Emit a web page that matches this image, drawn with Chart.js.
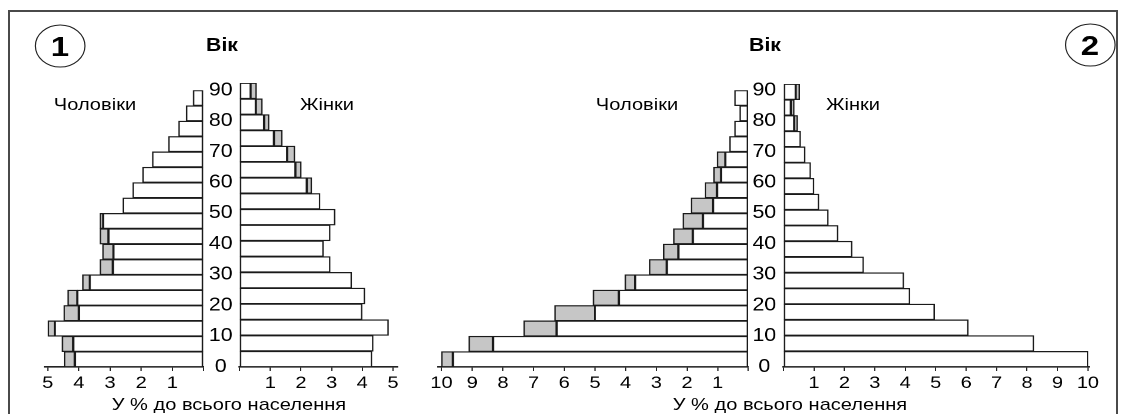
<!DOCTYPE html>
<html lang="uk">
<head>
<meta charset="utf-8">
<title>Статево-вікові піраміди</title>
<script src="https://cdn.jsdelivr.net/npm/chart.js@4.4.1/dist/chart.umd.min.js"></script>
<style>
  :root { --s: 1.18; }
  html, body { margin: 0; padding: 0; background: #fff; }
  body {
    width: 1123px; height: 414px; overflow: hidden; position: relative;
    font-family: "Liberation Sans", Arial, sans-serif; color: #000;
  }
  .frame {
    position: absolute; left: 8px; top: 10px; width: 1110px; height: 430px;
    border: 2px solid #4a4a4a; box-sizing: border-box;
  }
  /* the picture is a bit wider than it is tall, so the whole stage is stretched */
  #stage {
    position: absolute; left: 0; top: 0;
    width: calc(1123px / var(--s)); height: 414px;
    transform: scaleX(var(--s)); transform-origin: 0 0;
  }
  .t {
    position: absolute; transform: translate(-50%, -50%);
    white-space: nowrap; font-size: 17px; line-height: 1;
  }
  .b { font-weight: bold; font-size: 18px; }
  .circ {
    position: absolute; width: 43px; height: 43px; box-sizing: border-box;
    border: 1.5px solid #222; border-radius: 50%;
    transform: translate(-50%, -50%);
    display: flex; align-items: center; justify-content: center;
    font-weight: bold; font-size: 28px; line-height: 1;
  }
  .box { position: absolute; }
</style>
</head>
<body>
<div class="frame"></div>
<div id="stage">
  <div class="circ" style="left: calc(60px / var(--s)); top: 46px;">1</div>
  <div class="circ" style="left: calc(1090px / var(--s)); top: 45px;">2</div>

  <div class="t b" style="left: calc(222px / var(--s)); top: 45px;">Вік</div>
  <div class="t b" style="left: calc(765px / var(--s)); top: 45px;">Вік</div>

  <div class="t" style="left: calc(95px / var(--s)); top: 104px;">Чоловіки</div>
  <div class="t" style="left: calc(327px / var(--s)); top: 104px;">Жінки</div>
  <div class="t" style="left: calc(637px / var(--s)); top: 104px;">Чоловіки</div>
  <div class="t" style="left: calc(853px / var(--s)); top: 104px;">Жінки</div>

  <div class="t" style="left: calc(229px / var(--s)); top: 404px;">У % до всього населення</div>
  <div class="t" style="left: calc(790px / var(--s)); top: 404px;">У % до всього населення</div>

  <div class="box" id="boxA"><canvas id="menOne"></canvas></div>
  <div class="box" id="boxB"><canvas id="womenOne"></canvas></div>
  <div class="box" id="boxC"><canvas id="menTwo"></canvas></div>
  <div class="box" id="boxD"><canvas id="womenTwo"></canvas></div>
</div>

<script>
// age groups, bottom to top
const ageGroups = ['0-4', '5-9', '10-14', '15-19', '20-24', '25-29', '30-34', '35-39', '40-44',
                   '45-49', '50-54', '55-59', '60-64', '65-69', '70-74', '75-79', '80-84', '85-89'];

// pyramid 1 (% of the whole population): white part + grey excess
const men1White   = [4.13, 4.18, 4.77, 4.00, 4.05, 3.65, 2.91, 2.89, 3.05, 3.22, 2.59, 2.27, 1.95, 1.64, 1.12, 0.80, 0.55, 0.33];
const men1Excess  = [0.34, 0.36, 0.22, 0.48, 0.31, 0.23, 0.41, 0.35, 0.27, 0.10, 0, 0, 0, 0, 0, 0, 0, 0];
const women1White  = [4.31, 4.35, 4.85, 3.99, 4.08, 3.65, 2.95, 2.73, 2.95, 3.11, 2.62, 2.19, 1.82, 1.55, 1.12, 0.80, 0.53, 0.36];
const women1Excess = [0, 0, 0, 0, 0, 0, 0, 0, 0, 0, 0, 0.16, 0.19, 0.25, 0.27, 0.16, 0.21, 0.19];

// pyramid 2
const men2White   = [9.63, 8.32, 6.25, 5.00, 4.22, 3.69, 2.66, 2.28, 1.81, 1.48, 1.15, 1.02, 0.89, 0.75, 0.61, 0.45, 0.28, 0.45];
const men2Excess  = [0.37, 0.79, 1.07, 1.31, 0.84, 0.33, 0.57, 0.49, 0.63, 0.65, 0.72, 0.39, 0.24, 0.27, 0, 0, 0, 0];
const women2White  = [10.0, 8.22, 6.07, 4.96, 4.15, 3.95, 2.63, 2.25, 1.79, 1.47, 1.16, 1.00, 0.89, 0.71, 0.56, 0.35, 0.24, 0.40];
const women2Excess = [0, 0, 0, 0, 0, 0, 0, 0, 0, 0, 0, 0, 0, 0, 0, 0.11, 0.11, 0.13];

const S = 1.18;
const FONT = "'Liberation Sans', Arial, sans-serif";

function wx(v) {
    return v / S;
}

// left/top/width/height in page pixels
function place(id, left, top, width, height) {
    const el = document.getElementById(id);
    el.style.left = wx(left) + 'px';
    el.style.top = top + 'px';
    el.style.width = wx(width) + 'px';
    el.style.height = height + 'px';
}

function makePanel(canvasId, white, excess, cfg) {
    const scales = {
        x: {
            type: 'linear',
            min: 0,
            max: cfg.max,
            reverse: cfg.reverse,
            stacked: true,
            ticks: {
                stepSize: 1,
                includeBounds: false,
                autoSkip: false,
                maxRotation: 0,
                padding: 2,
                color: '#000',
                font: { family: FONT, size: 17 },
                callback: (value) => value === 0 ? '' : value
            },
            grid: { drawOnChartArea: false, drawTicks: true, tickLength: 4, color: '#222', lineWidth: 1 },
            border: { display: true, color: '#222', width: 1.6 },
            afterFit: (scale) => { scale.height = 33; }
        },
        y: {
            type: 'category',
            stacked: true,
            reverse: true,
            display: false
        }
    };
    if (cfg.ageWidth) {
        // age ticks sit on the bar boundaries, so no half-slot offset
        scales.age = {
            type: 'linear',
            position: 'right',
            offset: false,
            min: 0,
            max: 90,
            ticks: {
                stepSize: 10,
                autoSkip: false,
                crossAlign: 'center',
                padding: cfg.agePad,
                color: '#000',
                font: { family: FONT, size: 18 }
            },
            grid: { display: false, drawTicks: false, offset: false },
            border: { display: false },
            afterFit: (scale) => { scale.width = wx(cfg.ageWidth); }
        };
    }

    const bar = {
        borderColor: '#1a1a1a',
        borderWidth: 1.25,
        borderSkipped: false,
        barPercentage: 1,
        categoryPercentage: 1
    };

    return new Chart(document.getElementById(canvasId), {
        type: 'bar',
        data: {
            labels: ageGroups,
            datasets: [
                Object.assign({ data: white, backgroundColor: '#ffffff' }, bar),
                Object.assign({ data: excess, backgroundColor: '#c6c6c6' }, bar)
            ]
        },
        options: {
            indexAxis: 'y',
            responsive: true,
            maintainAspectRatio: false,
            animation: false,
            devicePixelRatio: 2,
            layout: {
                autoPadding: false,
                padding: { left: wx(cfg.padLeft || 0), right: wx(cfg.padRight || 0), top: 8, bottom: 0 }
            },
            plugins: {
                legend: { display: false },
                tooltip: { enabled: false }
            },
            scales: scales
        }
    });
}

place('boxA', 30, 75, 207, 325);
place('boxB', 237, 75, 173, 325);
place('boxC', 425, 76, 356, 324);
place('boxD', 781, 76, 324, 324);

makePanel('menOne', men1White, men1Excess, { max: 5.1, reverse: true, padLeft: 15, ageWidth: 34, agePad: 4.5 });
makePanel('womenOne', women1White, women1Excess, { max: 5.15, reverse: false, padRight: 12 });
makePanel('menTwo', men2White, men2Excess, { max: 10.1, reverse: true, padLeft: 13.6, ageWidth: 33, agePad: 3.5 });
makePanel('womenTwo', women2White, women2Excess, { max: 10.05, reverse: false, padRight: 15.2 });
</script>
</body>
</html>
